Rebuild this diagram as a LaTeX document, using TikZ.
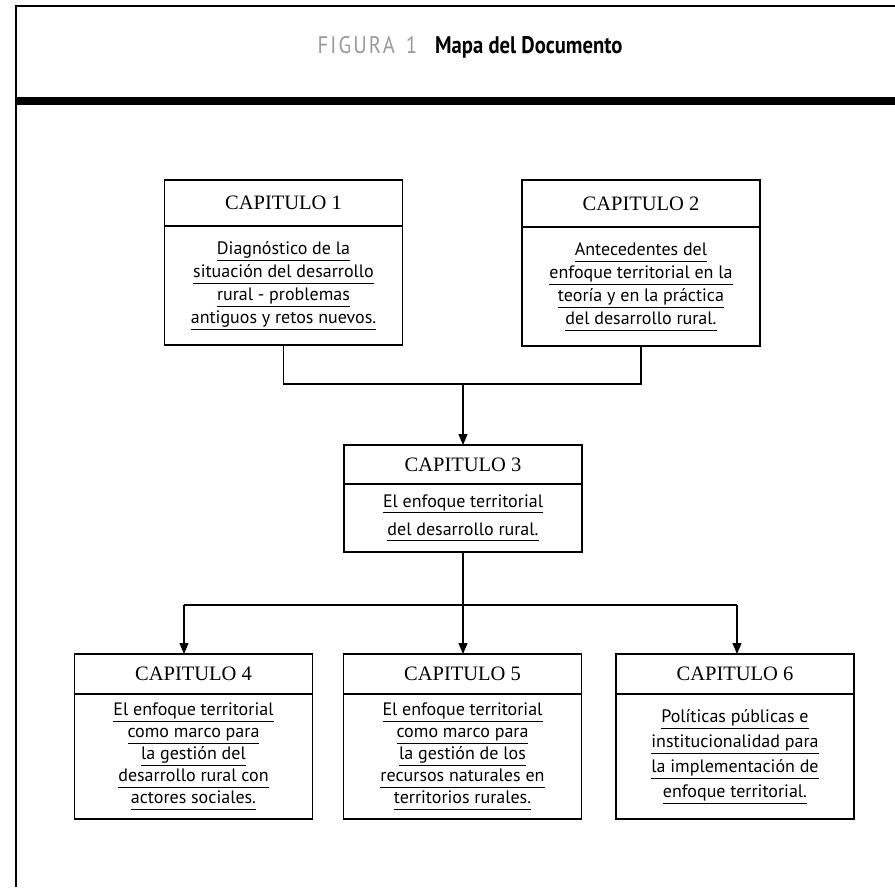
\documentclass[tikz,border=0pt]{standalone}
\usepackage{fontspec}
\setmainfont{PT Sans}
\newfontfamily\capfont{Liberation Serif}
\usetikzlibrary{positioning,arrows.meta}

\newcommand{\ulw}[1]{\underline{#1\vphantom{gp}}}
\newcommand{\bodysize}[1]{\fontsize{18}{#1}\selectfont}

\tikzset{
  caphead/.style={draw, line width=1.6pt, outer sep=0pt, inner sep=0pt,
    minimum width=238pt, font=\capfont\fontsize{20.5}{22}\selectfont},
  capbody/.style={draw, line width=1.6pt, outer sep=0pt, inner sep=0pt,
    minimum width=238pt, align=center},
  link/.style={line width=1.2pt},
  arr/.style={line width=1.2pt, -{Triangle[length=11pt,width=9pt]}}
}

\begin{document}
\begin{tikzpicture}[x=1pt,y=-1pt]
  \useasboundingbox (0,0) rectangle (895,887);

  % frame and title
  \draw[line width=2pt] (16,887) -- (16,6) -- (895,6);
  \fill (16,96.5) rectangle (895,104.5);
  \node (ttl) at (470,47) {\fontsize{24}{26}\selectfont\addfontfeatures{FakeStretch=0.86}\textcolor{black!40}{\addfontfeatures{LetterSpace=9}FIGURA\hspace{11pt}1}\hspace{18pt}\textbf{Mapa del Documento}};

  % first row
  \node[caphead, minimum height=46pt] (c1h) at (283.5,203) {CAPITULO 1};
  \node[capbody, minimum height=119pt, below=0pt of c1h, font=\bodysize{23}] (c1b)
    {\ulw{Diagnóstico de la}\\ \ulw{situación del desarrollo}\\ \ulw{rural - problemas}\\ \ulw{antiguos y retos nuevos.}};

  \node[caphead, minimum height=47pt] (c2h) at (641,203.5) {CAPITULO 2};
  \node[capbody, minimum height=119pt, below=0pt of c2h, font=\bodysize{23}] (c2b)
    {\ulw{Antecedentes del}\\ \ulw{enfoque territorial en la}\\ \ulw{teoría y en la práctica}\\ \ulw{del desarrollo rural.}};

  % middle
  \node[caphead, minimum height=39pt] (c3h) at (463,464.5) {CAPITULO 3};
  \node[capbody, minimum height=68pt, below=0pt of c3h, font=\bodysize{28}] (c3b)
    {\ulw{El enfoque territorial}\\ \ulw{del desarrollo rural.}};

  % last row
  \node[caphead, minimum height=40pt] (c4h) at (193.5,674) {CAPITULO 4};
  \node[capbody, minimum height=125pt, below=0pt of c4h, font=\bodysize{22}] (c4b)
    {\ulw{El enfoque territorial}\\ \ulw{como marco para}\\ \ulw{la gestión del}\\ \ulw{desarrollo rural con}\\ \ulw{actores sociales.}};

  \node[caphead, minimum height=40pt] (c5h) at (462.5,674) {CAPITULO 5};
  \node[capbody, minimum height=125pt, below=0pt of c5h, font=\bodysize{22}] (c5b)
    {\ulw{El enfoque territorial}\\ \ulw{como marco para}\\ \ulw{la gestión de los}\\ \ulw{recursos naturales en}\\ \ulw{territorios rurales.}};

  \node[caphead, minimum height=40pt] (c6h) at (735,674) {CAPITULO 6};
  \node[capbody, minimum height=125pt, below=0pt of c6h, font=\bodysize{25}] (c6b)
    {\ulw{Políticas públicas e}\\ \ulw{institucionalidad para}\\ \ulw{la implementación de}\\ \ulw{enfoque territorial.}};

  % connectors
  \coordinate (j1) at (463,384);
  \coordinate (j4) at (184,605);
  \coordinate (j5) at (463,605);
  \coordinate (j6) at (737,605);
  \draw[link] (c1b.south) |- (j1) -| (c2b.south);
  \draw[arr] (j1) -- (c3h.north);
  \draw[link] (c3b.south) -- (j5);
  \draw[link] (j4) -- (j6);
  \draw[arr] (j4) -- (j4 |- c4h.north);
  \draw[arr] (j5) -- (j5 |- c5h.north);
  \draw[arr] (j6) -- (j6 |- c6h.north);
\end{tikzpicture}
\end{document}
